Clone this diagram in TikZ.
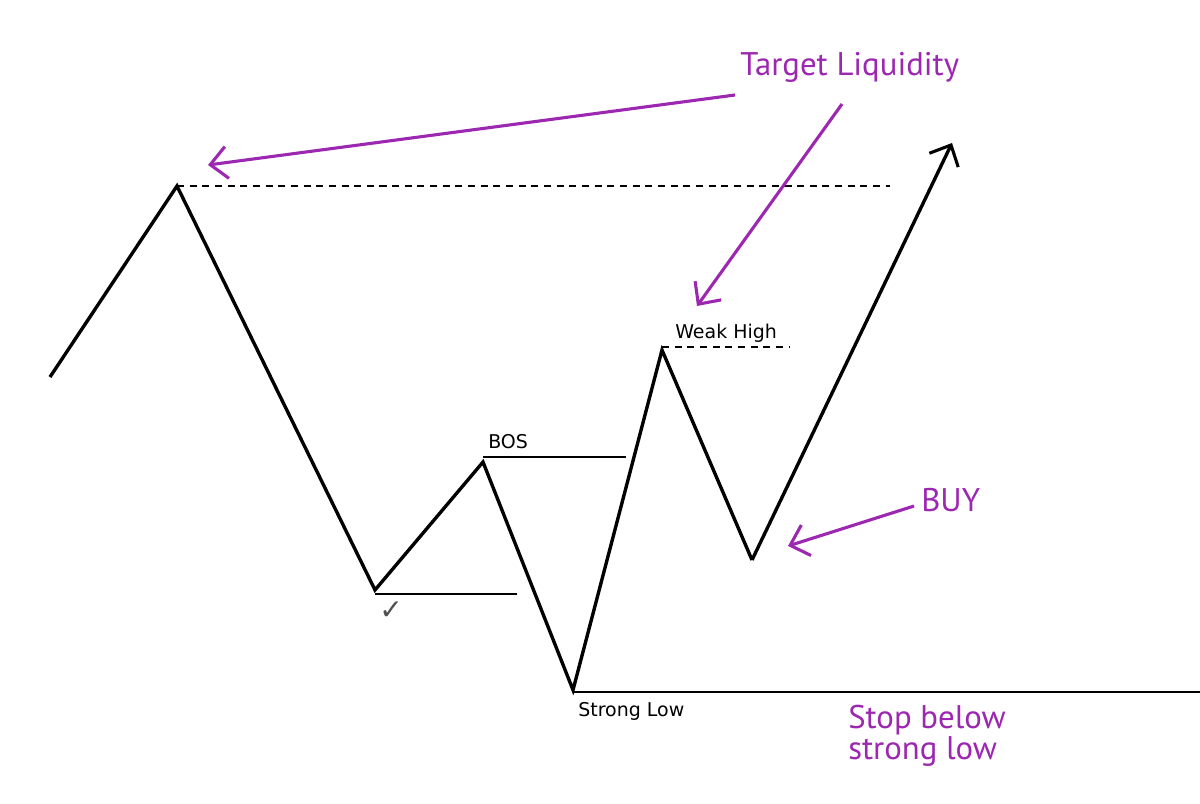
\documentclass[tikz,border=0pt]{standalone}
\usepackage{fontspec}
\setmainfont{DejaVu Sans}
\newfontfamily\pf{PT Sans}
\usetikzlibrary{arrows.meta}
\definecolor{lilac}{RGB}{156,39,176}
\definecolor{tickgray}{RGB}{80,80,80}
\tikzset{
  price/.style={line width=2.4pt, line join=miter, black},
  level/.style={line width=1pt, black},
  dlevel/.style={line width=1pt, black, dash pattern=on 5pt off 4pt},
  purplearrow/.style={line width=2.2pt, lilac, -{Straight Barb[length=0.42cm,width=0.8cm,line width=2.2pt]}},
  blackhead/.style={-{Straight Barb[length=0.42cm,width=0.8cm,line width=2.2pt]}},
  lbl/.style={font=\fontsize{13.5}{16}\selectfont, text=black, inner sep=0pt},
  plbl/.style={font=\pf\fontsize{23.3}{26}\selectfont, text=lilac, inner sep=0pt},
}
\begin{document}
\begin{tikzpicture}[x=0.025cm,y=-0.025cm]
\useasboundingbox[fill=white] (0,0) rectangle (1200,803);
% price path points
\coordinate (p0) at (50,377);
\coordinate (p1) at (177,186);
\coordinate (p2) at (375,590);
\coordinate (p3) at (483,462);
\coordinate (p4) at (573,690);
\coordinate (p5) at (662,350);
\coordinate (p6) at (752,560);
\coordinate (p7) at (952,143);
% level ends
\coordinate (topend) at (890,186);
\coordinate (weakend) at (790,347);
\coordinate (weakstart) at (662,347);
\coordinate (bosstart) at (483,457);
\coordinate (bosend) at (626,457);
\coordinate (lowstart) at (375,594);
\coordinate (lowend) at (517,594);
\coordinate (slstart) at (573,692);
\coordinate (slend) at (1200,692);
% levels
\draw[dlevel] (p1) -- (topend);
\draw[dlevel] (weakstart) -- (weakend);
\draw[level] (bosstart) -- (bosend);
\draw[level] (lowstart) -- (lowend);
\draw[level] (slstart) -- (slend);
% price
\draw[price] (p0) -- (p1) -- (p2) -- (p3) -- (p4) -- (p5) -- (p6);
\draw[price, blackhead] (p6) -- (p7);
% labels
\node[lbl, anchor=base west] (bos) at (488,448) {BOS};
\node[lbl, anchor=base west] (weak) at (675,338) {Weak High};
\node[lbl, anchor=base west] (strong) at (578,716) {Strong Low};
\node[font=\bfseries\fontsize{20}{22}\selectfont, text=tickgray, inner sep=0pt, anchor=base west] (tick) at (379,619) {✓};
% purple texts
\node[plbl, anchor=base west] (tl) at (740,75) {Target Liquidity};
\node[plbl, anchor=base west] (buy) at (921,511) {BUY};
\node[plbl, anchor=base west] (stop1) at (848,728) {Stop below};
\node[plbl, anchor=base west] (stop2) at (848,759) {strong low};
% purple arrows
\coordinate (a1s) at (735,95);
\coordinate (a1e) at (208,165);
\coordinate (a2s) at (842,104);
\coordinate (a2e) at (697,306);
\coordinate (a3s) at (914,506);
\coordinate (a3e) at (788,546);
\draw[purplearrow] (a1s) -- (a1e);
\draw[purplearrow] (a2s) -- (a2e);
\draw[purplearrow] (a3s) -- (a3e);
\end{tikzpicture}
\end{document}
